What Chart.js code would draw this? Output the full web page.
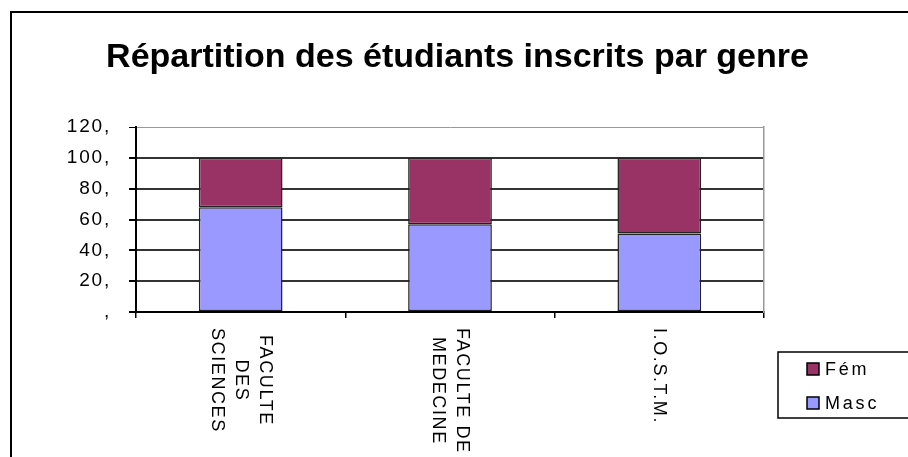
<!DOCTYPE html>
<html>
<head>
<meta charset="utf-8">
<script src="https://cdn.jsdelivr.net/npm/chart.js@4"></script>
<style>
  html, body { margin: 0; padding: 0; background: #fff; }
  #wrap { position: relative; width: 908px; height: 457px; }
</style>
</head>
<body>
<div id="wrap"><canvas id="chart"></canvas></div>
<script>
const categories = [['FACULTE', 'DES', 'SCIENCES'], ['FACULTE DE', 'MEDECINE'], ['I.O.S.T.M.']];
const masc = [68, 57, 51];
const fem = [32, 43, 49];
const yMax = 120;
const yStep = 20;
const title = 'Répartition des étudiants inscrits par genre';

const FONT = "'Liberation Sans', Arial, sans-serif";

// outer frame, rotated category labels, legend box
const decor = {
  id: 'decor',
  afterDatasetsDraw(chart) {
    chart.ctx.letterSpacing = '1.8px'; // y tick labels (z:1) get drawn after this
  },
  afterDraw(chart) {
    const { ctx, chartArea: a, scales: { x } } = chart;
    ctx.save();
    ctx.strokeStyle = '#000';
    ctx.lineWidth = 2;
    ctx.strokeRect(11, 12, 1000, 1000);

    // category labels, turned clockwise
    ctx.font = '18px ' + FONT;
    ctx.letterSpacing = '1.6px';
    ctx.fillStyle = '#000';
    ctx.textAlign = 'center';
    ctx.textBaseline = 'middle';
    chart.data.labels.forEach((lines, i) => {
      const w = Math.max(...lines.map(l => ctx.measureText(l).width));
      ctx.save();
      ctx.translate(x.getPixelForTick(i), a.bottom + 16);
      ctx.rotate(Math.PI / 2);
      lines.forEach((l, j) => ctx.fillText(l, w / 2, (j - (lines.length - 1) / 2) * 24));
      ctx.restore();
    });

    // legend
    ctx.lineWidth = 1.5;
    ctx.strokeRect(778, 352, 140, 66);
    ctx.textAlign = 'left';
    ctx.letterSpacing = '2.8px';
    const sets = chart.data.datasets.slice().reverse();
    sets.forEach((ds, i) => {
      const cy = 369 + i * 34;
      ctx.fillStyle = ds.backgroundColor;
      ctx.fillRect(807, cy - 6, 12, 12);
      ctx.strokeRect(807, cy - 6, 12, 12);
      ctx.fillStyle = '#000';
      ctx.fillText(ds.label, 825, cy + 1);
    });
    ctx.restore();
    ctx.letterSpacing = '0px';
  }
};

new Chart(document.getElementById('chart'), {
  type: 'bar',
  data: {
    labels: categories,
    datasets: [
      { label: 'Masc', data: masc, backgroundColor: '#9999FF' },
      { label: 'Fém', data: fem, backgroundColor: '#993366' }
    ]
  },
  options: {
    responsive: true,
    maintainAspectRatio: false,
    animation: false,
    layout: { padding: { top: 12, left: 7 } },
    datasets: {
      bar: { borderColor: '#222', borderWidth: 1.5, borderSkipped: false, barPercentage: 0.4, categoryPercentage: 1 }
    },
    plugins: {
      legend: { display: false },
      tooltip: { enabled: false },
      title: {
        display: true,
        text: title,
        color: '#000',
        font: { family: FONT, size: 34, weight: 'bold' },
        padding: { top: 25.5, bottom: 48.7 }
      }
    },
    scales: {
      x: {
        stacked: true,
        grid: { offset: true, drawOnChartArea: false, color: '#000', lineWidth: 1.5, tickLength: 6 },
        border: { color: '#000', width: 2 },
        ticks: { display: false },
        afterFit: s => { s.height = 145; }
      },
      y: {
        stacked: true,
        min: 0,
        max: yMax,
        ticks: {
          stepSize: yStep,
          z: 1,
          padding: 18,
          color: '#000',
          font: { family: FONT, size: 19 },
          callback: v => v === 0 ? ',' : v + ','
        },
        grid: {
          color: c => c.tick && c.tick.value === yMax ? '#999' : '#333',
          lineWidth: c => c.tick && c.tick.value === yMax ? 1 : 2,
          tickColor: '#000',
          tickLength: 7
        },
        border: { color: '#000', width: 2 },
        afterFit: s => { s.width = 129; }
      },
      y2: {
        position: 'right',
        grid: { display: false },
        ticks: { display: false },
        border: { color: '#999', width: 1.5 },
        afterFit: s => { s.width = 144; }
      }
    }
  },
  plugins: [decor]
});
</script>
</body>
</html>
